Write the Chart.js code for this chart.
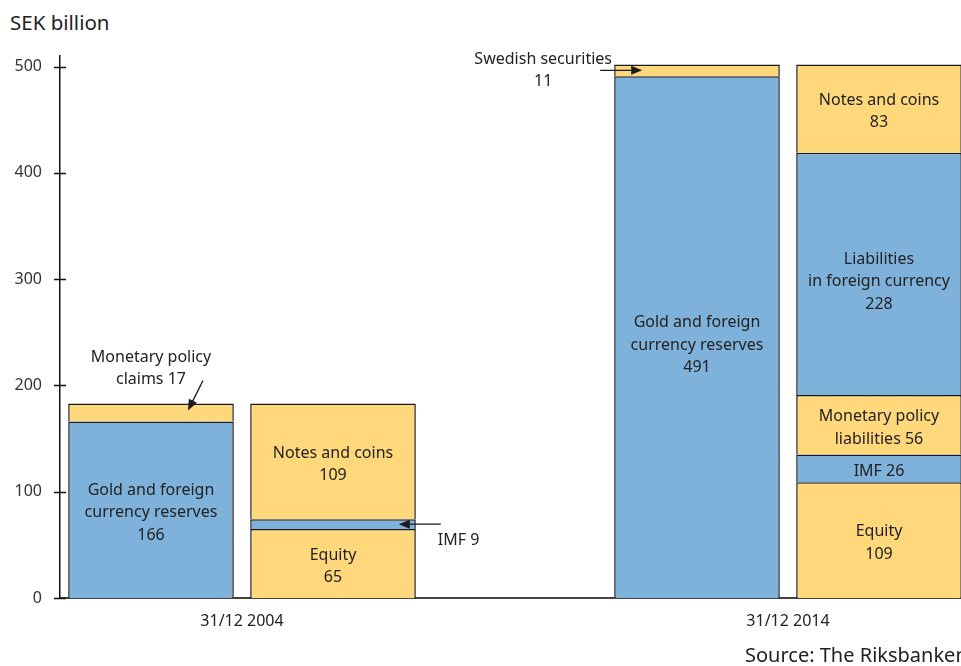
<!DOCTYPE html>
<html lang="en">
<head>
<meta charset="UTF-8">
<title>Riksbank balance sheet</title>
<script src="https://cdn.jsdelivr.net/npm/chart.js"></script>
<style>
  html, body { margin: 0; padding: 0; overflow: hidden; background: #fff; }
  body { width: 961px; height: 666px; position: relative; font-family: "Noto Sans", sans-serif; color: #222; }
  #chart { position: absolute; left: 0; top: 0; }
  .unit { position: absolute; left: 10px; top: 8px; font-size: 20.5px; line-height: 28px; }
  .source { position: absolute; left: 745px; top: 641px; font-size: 20px; line-height: 28px; white-space: nowrap; }
</style>
</head>
<body>
  <div class="unit">SEK billion</div>
  <canvas id="chart" width="980" height="666"></canvas>
  <div class="source">Source: The Riksbanken</div>

  <script>
    // dates shown under each pair of bars
    const periods = ['31/12 2004', '31/12 2014'];
    const periodSlot = [1, 4];

    // one bar per slot: assets / liabilities, stacked bottom up
    const barSlots = [0.5, 1.5, 3.5, 4.5];
    const assets2004 = [166, 17];
    const assetNames2004 = ['Gold and foreign currency reserves', 'Monetary policy claims'];
    const liabilities2004 = [65, 9, 109];
    const liabilityNames2004 = ['Equity', 'IMF', 'Notes and coins'];
    const assets2014 = [491, 11];
    const assetNames2014 = ['Gold and foreign currency reserves', 'Swedish securities'];
    const liabilities2014 = [109, 26, 56, 228, 83];
    const liabilityNames2014 = ['Equity', 'IMF', 'Monetary policy liabilities', 'Liabilities in foreign currency', 'Notes and coins'];

    const yTicks = [0, 100, 200, 300, 400, 500];

    const BLUE = '#7fb2da';
    const YELLOW = '#ffd87c';
    const blueItems = ['Gold and foreign currency reserves', 'IMF', 'Liabilities in foreign currency'];

    const bars = [
      { values: assets2004, names: assetNames2004 },
      { values: liabilities2004, names: liabilityNames2004 },
      { values: assets2014, names: assetNames2014 },
      { values: liabilities2014, names: liabilityNames2014 }
    ];

    const levels = Math.max(...bars.map(b => b.values.length));
    const datasets = [];
    for (let i = 0; i < levels; i++) {
      datasets.push({
        label: 'level ' + i,
        data: bars.map((b, j) => ({ x: barSlots[j], y: b.values[i] ?? null })),
        names: bars.map(b => b.names[i] || null),
        backgroundColor: bars.map(b => blueItems.includes(b.names[i]) ? BLUE : YELLOW),
        borderColor: '#1a1a1a',
        borderWidth: 1.5,
        borderSkipped: 'start',
        barPercentage: 0.91,
        categoryPercentage: 1
      });
    }

    const FONT = '16px "Noto Sans", sans-serif';
    const LINE = 22.5;

    function insideLines(name, v) {
      if (name === 'IMF') return ['IMF ' + v];
      if (name === 'Monetary policy liabilities') return ['Monetary policy', 'liabilities ' + v];
      if (name === 'Gold and foreign currency reserves') return ['Gold and foreign', 'currency reserves', String(v)];
      if (name === 'Liabilities in foreign currency') return ['Liabilities', 'in foreign currency', String(v)];
      return [name, String(v)];
    }

    // small segments get a label outside with an arrow
    const callouts = {
      'Monetary policy claims': (el, v) => ({
        lines: ['Monetary policy', 'claims ' + v], align: 'center',
        tx: el.x, ty: el.y - 35,
        from: [el.x + 52, el.y - 23], to: [el.x + 37, el.y + 7]
      }),
      'IMF': (el, v) => {
        const r = el.x + el.width / 2, c = (el.y + el.base) / 2;
        return { lines: ['IMF ' + v], align: 'left', tx: r + 22, ty: c + 16, from: [r + 25, c], to: [r - 17, c] };
      },
      'Swedish securities': (el, v) => {
        const l = el.x - el.width / 2, c = (el.y + el.base) / 2;
        return { lines: ['Swedish securities', String(v)], align: 'center', tx: l - 71, ty: c, from: [l - 14, c], to: [l + 28, c] };
      }
    };

    function drawLines(ctx, lines, x, cy, align) {
      ctx.textAlign = align;
      const top = cy - (lines.length - 1) * LINE / 2;
      lines.forEach((t, k) => ctx.fillText(t, x, top + k * LINE));
    }

    function arrow(ctx, from, to) {
      const ang = Math.atan2(to[1] - from[1], to[0] - from[0]);
      ctx.strokeStyle = '#1a1a1a';
      ctx.fillStyle = '#1a1a1a';
      ctx.lineWidth = 1.3;
      ctx.beginPath();
      ctx.moveTo(from[0], from[1]);
      ctx.lineTo(to[0] - 8 * Math.cos(ang), to[1] - 8 * Math.sin(ang));
      ctx.stroke();
      ctx.beginPath();
      ctx.moveTo(to[0], to[1]);
      ctx.lineTo(to[0] - 11 * Math.cos(ang) + 4.5 * Math.sin(ang), to[1] - 11 * Math.sin(ang) - 4.5 * Math.cos(ang));
      ctx.lineTo(to[0] - 11 * Math.cos(ang) - 4.5 * Math.sin(ang), to[1] - 11 * Math.sin(ang) + 4.5 * Math.cos(ang));
      ctx.closePath();
      ctx.fill();
    }

    const segmentLabels = {
      id: 'segmentLabels',
      afterDatasetsDraw(chart) {
        const ctx = chart.ctx;
        ctx.save();
        ctx.font = FONT;
        ctx.textBaseline = 'middle';
        chart.data.datasets.forEach((ds, i) => {
          chart.getDatasetMeta(i).data.forEach((el, j) => {
            const v = ds.data[j].y;
            const name = ds.names[j];
            if (v == null) return;
            const small = callouts[name] && v < 20;
            ctx.fillStyle = '#222';
            if (small) {
              const c = callouts[name](el, v);
              arrow(ctx, c.from, c.to);
              ctx.fillStyle = '#222';
              drawLines(ctx, c.lines, c.tx, c.ty, c.align);
            } else {
              const h = el.base - el.y;
              const shift = 3 + (h > 200 ? 5 : 0);
              drawLines(ctx, insideLines(name, v), el.x, (el.y + el.base) / 2 + shift, 'center');
            }
          });
        });
        ctx.restore();
      }
    };

    // y tick marks crossing the axis line
    const crossTicks = {
      id: 'crossTicks',
      afterDraw(chart) {
        const y = chart.scales.y;
        const ctx = chart.ctx;
        const x0 = chart.chartArea.left;
        ctx.save();
        ctx.strokeStyle = '#111';
        ctx.lineWidth = 1.5;
        y.ticks.forEach(t => {
          const py = Math.round(y.getPixelForValue(t.value)) + 0.5;
          ctx.beginPath();
          ctx.moveTo(x0 - 6, py);
          ctx.lineTo(x0 + 6, py);
          ctx.stroke();
        });
        ctx.restore();
      }
    };

    new Chart(document.getElementById('chart'), {
      type: 'bar',
      data: { datasets },
      options: {
        responsive: false,
        animation: false,
        layout: { padding: { top: 56, right: 10, left: 0, bottom: 0 } },
        plugins: { legend: { display: false }, tooltip: { enabled: false } },
        scales: {
          x: {
            type: 'linear',
            stacked: true,
            offset: false,
            min: 0,
            max: 5,
            afterBuildTicks: s => { s.ticks = periodSlot.map(v => ({ value: v })); },
            afterFit: s => { s.height = 68; },
            ticks: {
              padding: 6,
              color: '#222',
              font: { family: '"Noto Sans", sans-serif', size: 16 },
              maxRotation: 0,
              callback: v => periods[periodSlot.indexOf(v)]
            },
            grid: { display: false },
            border: { display: true, color: '#444', width: 2 }
          },
          y: {
            stacked: true,
            min: 0,
            max: 510,
            afterBuildTicks: s => { s.ticks = yTicks.map(v => ({ value: v })); },
            afterFit: s => { s.width = 60; },
            ticks: {
              padding: 10,
              color: '#333',
              font: { family: '"Noto Sans", sans-serif', size: 16 }
            },
            grid: { display: false },
            border: { display: true, color: '#111', width: 1.5 }
          }
        }
      },
      plugins: [segmentLabels, crossTicks]
    });
  </script>
</body>
</html>
